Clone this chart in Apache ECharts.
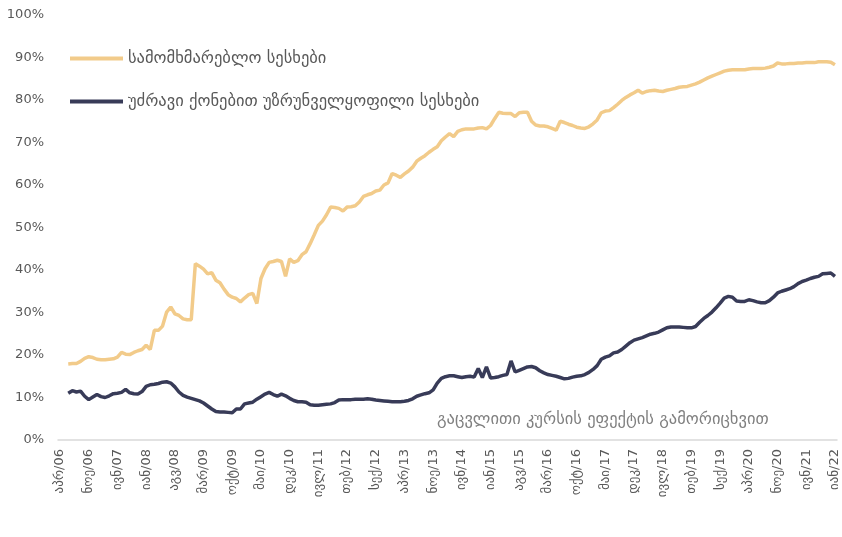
<!DOCTYPE html>
<html>
<head>
<meta charset="utf-8">
<script src="https://cdn.jsdelivr.net/npm/echarts@6/dist/echarts.min.js"></script>
<style>
  html, body { margin: 0; padding: 0; background: #fff; }
  #chart { width: 842px; height: 537px; }
</style>
</head>
<body>
<div id="chart"></div>
<script>
// თვეები (აპრ/06 - იან/22)
var monthNames = ["იან", "თებ", "მარ", "აპრ", "მაი", "ივნ", "ივლ", "აგვ", "სექ", "ოქტ", "ნოე", "დეკ"];
var startYear = 2006, startMonth = 3, monthCount = 190;

var seriesNames = ["სამომხმარებლო სესხები", "უძრავი ქონებით უზრუნველყოფილი სესხები"];
var noteText = "გაცვლითი კურსის ეფექტის გამორიცხვით";

// სამომხმარებლო სესხები, % (ივნ/06-დან)
var consumerLoans = [
  null, null,
  17.9, 18.0, 18.0, 18.5, 19.2, 19.6, 19.4, 19.0, 18.9, 18.9,
  19.0, 19.1, 19.5, 20.6, 20.2, 20.1, 20.6, 21.0, 21.3, 22.3,
  21.3, 25.8, 25.8, 26.8, 30.1, 31.3, 29.7, 29.3, 28.5, 28.3,
  28.3, 41.5, 40.9, 40.2, 39.1, 39.4, 37.6, 37.0, 35.5, 34.2,
  33.6, 33.3, 32.5, 33.4, 34.2, 34.5, 32.1, 38.0, 40.3, 41.8,
  42.0, 42.3, 42.0, 38.5, 42.6, 41.8, 42.2, 43.6, 44.3, 46.2,
  48.3, 50.5, 51.5, 53.0, 54.8, 54.7, 54.5, 53.9, 54.8, 54.9,
  55.1, 56.0, 57.3, 57.7, 58.0, 58.6, 58.8, 60.0, 60.5, 62.7,
  62.3, 61.8, 62.6, 63.3, 64.2, 65.6, 66.3, 66.9, 67.7, 68.4,
  69.0, 70.4, 71.3, 72.1, 71.4, 72.6, 73.0, 73.2, 73.2, 73.2,
  73.4, 73.5, 73.2, 74.0, 75.6, 77.1, 76.9, 76.8, 76.8, 76.1,
  77.0, 77.1, 77.1, 75.0, 74.1, 73.9, 73.9, 73.7, 73.3, 72.9,
  75.0, 74.7, 74.3, 74.0, 73.6, 73.4, 73.3, 73.7, 74.4, 75.3,
  77.0, 77.4, 77.5, 78.2, 79.0, 79.9, 80.6, 81.2, 81.7, 82.3,
  81.6, 82.0, 82.2, 82.3, 82.1, 82.0, 82.3, 82.5, 82.7, 83.0,
  83.1, 83.2, 83.5, 83.8, 84.2, 84.7, 85.2, 85.6, 86.0, 86.4,
  86.8, 87.0, 87.1, 87.1, 87.1, 87.1, 87.3, 87.4, 87.4, 87.4,
  87.5, 87.7, 88.0, 88.7, 88.5, 88.5, 88.6, 88.6, 88.7, 88.7,
  88.8, 88.8, 88.8, 89.0, 89.0, 89.0, 88.9, 88.3
];

// უძრავი ქონებით უზრუნველყოფილი სესხები, %
var mortgageLoans = [
  null, null,
  11.0, 11.6, 11.3, 11.5, 10.3, 9.5, 10.1, 10.7, 10.2, 10.0,
  10.4, 10.9, 11.0, 11.2, 11.9, 11.1, 10.9, 10.8, 11.4, 12.6,
  13.0, 13.1, 13.3, 13.6, 13.7, 13.4, 12.5, 11.3, 10.5, 10.1,
  9.8, 9.5, 9.2, 8.7, 8.0, 7.3, 6.7, 6.6, 6.6, 6.5,
  6.4, 7.3, 7.3, 8.5, 8.7, 8.9, 9.6, 10.2, 10.8, 11.2,
  10.7, 10.3, 10.8, 10.4, 9.8, 9.3, 9.0, 9.0, 8.9, 8.3,
  8.2, 8.2, 8.3, 8.4, 8.5, 8.8, 9.4, 9.5, 9.5, 9.5,
  9.6, 9.6, 9.6, 9.7, 9.6, 9.4, 9.3, 9.2, 9.1, 9.0,
  9.0, 9.0, 9.1, 9.3, 9.7, 10.3, 10.6, 10.9, 11.1, 11.8,
  13.4, 14.5, 14.9, 15.1, 15.1, 14.9, 14.7, 14.9, 15.0, 14.8,
  16.8, 14.7, 17.2, 14.6, 14.7, 14.9, 15.2, 15.4, 18.6, 16.0,
  16.4, 16.8, 17.2, 17.3, 17.0, 16.3, 15.8, 15.4, 15.2, 15.0,
  14.7, 14.4, 14.5, 14.8, 15.0, 15.1, 15.4, 15.9, 16.6, 17.5,
  19.0, 19.5, 19.8, 20.5, 20.7, 21.3, 22.1, 22.9, 23.5, 23.8,
  24.1, 24.5, 24.9, 25.1, 25.4, 25.9, 26.4, 26.6, 26.6, 26.6,
  26.5, 26.4, 26.4, 26.7, 27.7, 28.6, 29.3, 30.1, 31.1, 32.2,
  33.4, 33.8, 33.6, 32.7, 32.6, 32.6, 33.0, 32.8, 32.5, 32.3,
  32.3, 32.8, 33.6, 34.6, 35.0, 35.3, 35.6, 36.1, 36.8, 37.3,
  37.6, 38.0, 38.3, 38.5, 39.1, 39.2, 39.3, 38.5
];

var months = [];
for (var i = 0; i < monthCount; i++) {
  var m = (startMonth + i) % 12;
  var y = startYear + Math.floor((startMonth + i) / 12);
  months.push(monthNames[m] + "/" + String(y % 100).padStart(2, "0"));
}

var fontFamily = "DejaVu Sans";
var chart = echarts.init(document.getElementById("chart"));

chart.setOption({
  animation: false,
  textStyle: { fontFamily: fontFamily },
  grid: { left: 58, right: 5, top: 15, bottom: 97, containLabel: false },
  legend: {
    orient: "vertical",
    left: 65,
    top: 45,
    itemWidth: 53,
    itemHeight: 4,
    itemGap: 26,
    icon: "rect",
    textStyle: { color: "#595959", fontSize: 16.5, lineHeight: 17, fontFamily: fontFamily },
    data: seriesNames
  },
  graphic: [{
    type: "text",
    left: 437,
    top: 411,
    style: { text: noteText, fill: "#808080", fontSize: 16.5, fontFamily: fontFamily }
  }],
  xAxis: {
    type: "category",
    data: months,
    boundaryGap: true,
    axisLine: { lineStyle: { color: "#d9d9d9", width: 1.5 } },
    axisTick: { interval: 6, length: 5, lineStyle: { color: "#d9d9d9", width: 1.5 } },
    axisLabel: { interval: 6, rotate: 90, color: "#595959", fontSize: 13, margin: 9, fontFamily: fontFamily }
  },
  yAxis: {
    type: "value",
    min: 0,
    max: 100,
    interval: 10,
    axisLine: { show: false },
    axisTick: { show: false },
    splitLine: { show: false },
    axisLabel: { formatter: "{value}%", color: "#595959", fontSize: 13, margin: 14, fontFamily: fontFamily }
  },
  series: [
    {
      name: seriesNames[0],
      type: "line",
      data: consumerLoans,
      showSymbol: false,
      color: "#F2CB8A",
      lineStyle: { width: 3.5, color: "#F2CB8A" }
    },
    {
      name: seriesNames[1],
      type: "line",
      data: mortgageLoans,
      showSymbol: false,
      color: "#383B58",
      lineStyle: { width: 3.5, color: "#383B58" }
    }
  ]
});
</script>
</body>
</html>
